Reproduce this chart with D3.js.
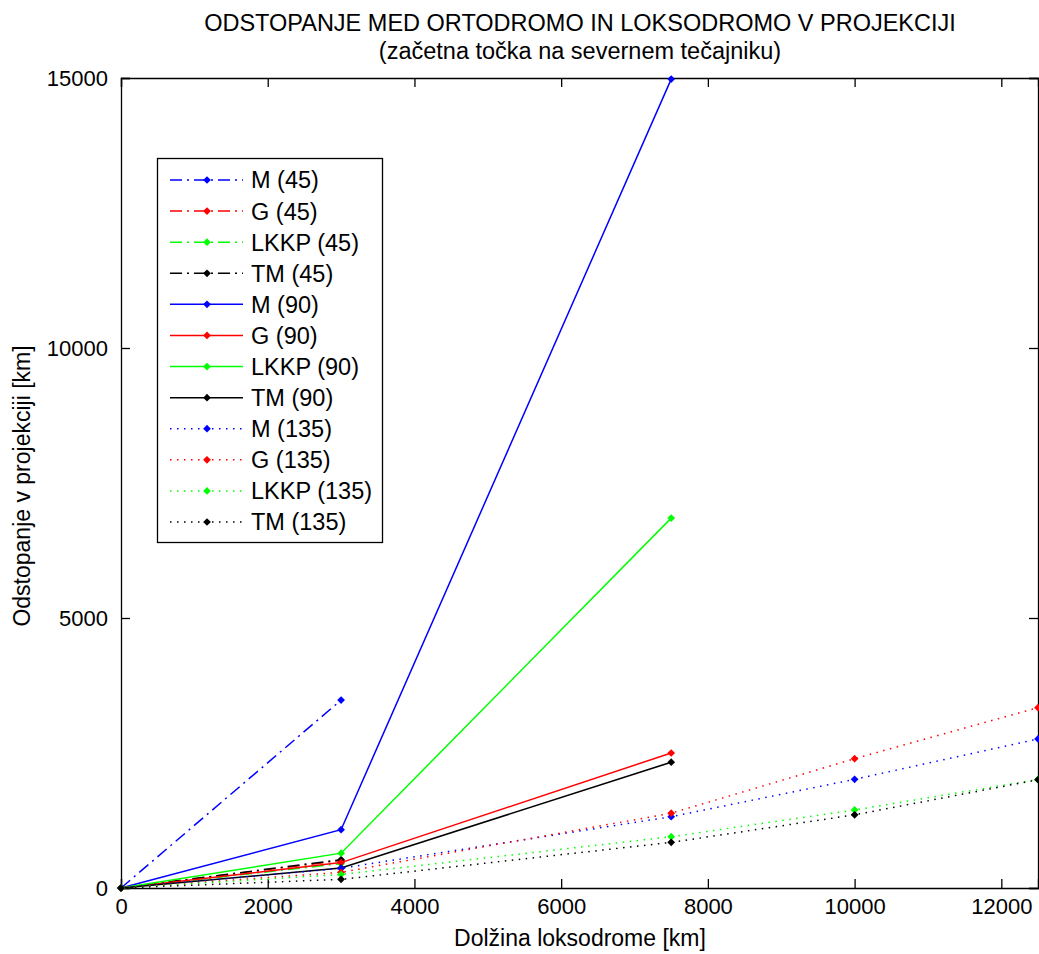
<!DOCTYPE html>
<html>
<head>
<meta charset="utf-8">
<script src="https://cdn.jsdelivr.net/npm/d3@7"></script>
<style>
    body { margin: 0; background: #fff; }
    svg text { font-family: "Liberation Sans", Arial, sans-serif; fill: #000; }
</style>
</head>
<body>
<svg id="chart" width="1039" height="954"></svg>
<script>
// x positions (loxodrome length, km) per start course
var xKm45  = [0, 3000];
var xKm90  = [0, 3000, 7500];
var xKm135 = [0, 3000, 7500, 10000, 12500];

// deviation in projection [km]
var m45     = [0, 3480];
var g45     = [0, 510];
var lkkp45  = [0, 450];
var tm45    = [0, 525];
var m90     = [0, 1080, 14980];
var g90     = [0, 470, 2500];
var lkkp90  = [0, 645, 6850];
var tm90    = [0, 370, 2330];
var m135    = [0, 365, 1320, 2012, 2760];
var g135    = [0, 290, 1385, 2395, 3340];
var lkkp135 = [0, 250, 950, 1445, 2010];
var tm135   = [0, 160, 845, 1355, 2005];

var seriesNames = ["M (45)", "G (45)", "LKKP (45)", "TM (45)",
                   "M (90)", "G (90)", "LKKP (90)", "TM (90)",
                   "M (135)", "G (135)", "LKKP (135)", "TM (135)"];
var seriesX = [xKm45, xKm45, xKm45, xKm45, xKm90, xKm90, xKm90, xKm90, xKm135, xKm135, xKm135, xKm135];
var seriesY = [m45, g45, lkkp45, tm45, m90, g90, lkkp90, tm90, m135, g135, lkkp135, tm135];

var xTicks = [0, 2000, 4000, 6000, 8000, 10000, 12000];
var yTicks = [0, 5000, 10000, 15000];

// styles
var colors = ["#0000ff", "#ff0000", "#00ff00", "#000000"];
var dashes = { "45": "12,5,2,5", "90": null, "135": "1.5,5.5" };

var svg = d3.select("#chart");
// NB: "top" is taken by window.top, so prefix the plot box names
var plotLeft = 121, plotRight = 1038, plotTop = 78, plotBottom = 888;

var x = d3.scaleLinear().domain([0, 12500]).range([plotLeft, plotRight]);
var y = d3.scaleLinear().domain([0, 15000]).range([plotBottom, plotTop]);

var angleOf = function(name) { return name.match(/\((\d+)\)/)[1]; };

// title
var title = svg.append("g").attr("text-anchor", "middle").style("font-size", "23.5px");
title.append("text").attr("x", 580).attr("y", 31).text("ODSTOPANJE MED ORTODROMO IN LOKSODROMO V PROJEKCIJI");
title.append("text").attr("x", 580).attr("y", 59).text("(začetna točka na severnem tečajniku)");

// axes (ticks inside, box on all sides)
var axisBottom = d3.axisBottom(x).tickValues(xTicks).tickSize(-9).tickPadding(10).tickFormat(d3.format("d"));
var axisTop    = d3.axisTop(x).tickValues(xTicks).tickSize(-9).tickFormat("");
var axisLeft   = d3.axisLeft(y).tickValues(yTicks).tickSize(-9).tickPadding(13).tickFormat(d3.format("d"));
var axisRight  = d3.axisRight(y).tickValues(yTicks).tickSize(-9).tickFormat("");

svg.append("g").attr("transform", "translate(0," + plotBottom + ")").call(axisBottom);
svg.append("g").attr("transform", "translate(0," + plotTop + ")").call(axisTop);
svg.append("g").attr("transform", "translate(" + plotLeft + ",0)").call(axisLeft);
svg.append("g").attr("transform", "translate(" + plotRight + ",0)").call(axisRight);

svg.selectAll(".tick text").style("font-size", "22px").style("font-family", "Liberation Sans, Arial, sans-serif");
svg.selectAll(".domain, .tick line").attr("stroke", "#000").attr("stroke-width", 1.3);

// axis labels
svg.append("text").attr("x", 580).attr("y", 946).attr("text-anchor", "middle")
    .style("font-size", "23px").text("Dolžina loksodrome [km]");
svg.append("text").attr("transform", "translate(30,486) rotate(-90)").attr("text-anchor", "middle")
    .style("font-size", "23px").text("Odstopanje v projekciji [km]");

// series
var line = d3.line().x(function(d) { return x(d[0]); }).y(function(d) { return y(d[1]); });
// matlab '.' marker ~ small rounded diamond: rotated square
var marker = d3.symbol().type(d3.symbolSquare).size(30);

for( var i = 0; i < seriesNames.length; i++ ) {
    var pts = d3.zip(seriesX[i], seriesY[i]);
    var col = colors[i % 4];
    var g = svg.append("g");
    g.append("path").datum(pts)
        .attr("d", line)
        .attr("fill", "none")
        .attr("stroke", col)
        .attr("stroke-width", 1.5)
        .attr("stroke-dasharray", dashes[angleOf(seriesNames[i])]);
    g.selectAll("path.pt").data(pts).enter().append("path")
        .attr("class", "pt")
        .attr("d", marker)
        .attr("transform", function(d) { return "translate(" + x(d[0]) + "," + y(d[1]) + ") rotate(45)"; })
        .attr("fill", col);
}

// legend
var legend = svg.append("g");
legend.append("rect").attr("x", 157.5).attr("y", 158.5).attr("width", 225).attr("height", 384)
    .attr("fill", "#fff").attr("stroke", "#000").attr("stroke-width", 1.3);

var rowY = d3.scalePoint().domain(seriesNames).range([180, 522]);
seriesNames.forEach(function(name, i) {
    var col = colors[i % 4];
    var ry = rowY(name);
    legend.append("line").attr("x1", 170).attr("x2", 243).attr("y1", ry).attr("y2", ry)
        .attr("stroke", col).attr("stroke-width", 1.5)
        .attr("stroke-dasharray", dashes[angleOf(name)]);
    legend.append("path").attr("d", marker).attr("transform", "translate(207," + ry + ") rotate(45)").attr("fill", col);
    legend.append("text").attr("x", 251).attr("y", ry).attr("dy", "0.36em")
        .style("font-size", "23.5px").text(name);
});
</script>
</body>
</html>
